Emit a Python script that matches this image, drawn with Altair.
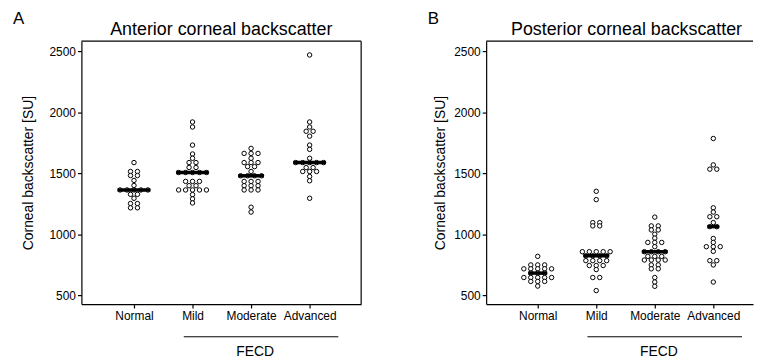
import altair as alt
import pandas as pd
import numpy as np

# ---------------- data ----------------
CATEGORIES = ["Normal", "Mild", "Moderate", "Advanced"]

ANT_NORMAL = [1588, 1515, 1515, 1482, 1482, 1442, 1401,
              1364, 1364, 1364, 1364, 1364,
              1328, 1328, 1296, 1253, 1253, 1218, 1218]
ANT_MILD = [1920, 1879, 1731, 1658, 1623, 1588, 1588, 1548, 1548,
            1507, 1507, 1507, 1507, 1507,
            1434, 1434, 1434, 1399, 1399,
            1364, 1364, 1364, 1364, 1364, 1326, 1291, 1258]
ANT_MODERATE = [1704, 1663, 1663, 1663, 1623, 1588, 1588, 1588, 1555, 1555, 1515,
                1480, 1480, 1480, 1480,
                1434, 1434, 1434, 1399, 1399, 1399, 1364, 1364, 1364, 1223, 1183]
ANT_ADVANCED = [2468, 1920, 1879, 1844, 1844, 1804, 1731, 1696, 1623,
                1588, 1588, 1588, 1588, 1588,
                1547, 1547, 1515, 1515, 1515, 1474, 1439, 1296]

POST_NORMAL = [821, 751, 751, 751, 719, 719, 719, 719, 719,
               684, 684, 684, 648, 648, 648, 648, 648, 616, 616, 616, 578]
POST_MILD = [1353, 1285, 1097, 1097, 1070, 1070,
             859, 859, 859, 859, 859,
             826, 826, 826, 826,
             786, 786, 786, 786, 746, 746, 746, 713, 648, 648, 541]
POST_MODERATE = [1142, 1070, 1070, 1037, 1037, 1002, 970, 935, 935, 935, 900,
                 859, 859, 859, 859,
                 821, 821, 821, 791, 791, 791, 791, 751, 751, 719, 719, 648, 611, 576]
POST_ADVANCED = [1785, 1569, 1534, 1534, 1218, 1183, 1145, 1145, 1097,
                 1064, 1064,
                 967, 935, 900, 900, 900, 862, 786, 786, 751, 611]

PANEL_TITLES = ["Anterior corneal backscatter", "Posterior corneal backscatter"]
PANEL_LETTERS = ["A", "B"]
Y_TITLE = "Corneal backscatter [SU]"
Y_TICKS = [500, 1000, 1500, 2000, 2500]
GROUP_LABEL = "FECD"

# ---------------- layout / style ----------------
FONT = "Liberation Sans"
H = 265
STEP = 59.0          # px between categories
DOT_GAP = 7.0        # px between dots in one row
Y_DOMAIN = [431, 2581]


def build_points(groups):
    rows, meds = [], []
    for gi, vals in enumerate(groups):
        counts = {}
        for v in vals:
            counts[v] = counts.get(v, 0) + 1
        seen = {}
        for v in vals:
            k = seen.get(v, 0)
            seen[v] = k + 1
            n = counts[v]
            off = (k - (n - 1) / 2) * DOT_GAP / STEP
            rows.append({"group": CATEGORIES[gi], "x": gi + off, "value": v})
        med = float(np.median(vals))
        n = counts.get(med, 1)
        hw = ((n - 1) / 2 * DOT_GAP + 2.5) / STEP
        meds.append({"x": gi - hw, "x2": gi + hw, "value": med})
    return pd.DataFrame(rows), pd.DataFrame(meds)


def panel(groups, title, letter, width, xmin, xmax, title_pad, letter_x,
          right_border, title_dx):
    pts, med = build_points(groups)
    xscale = alt.Scale(domain=[xmin, xmax], nice=False, zero=False)
    yscale = alt.Scale(domain=Y_DOMAIN, nice=False, zero=False)
    label_expr = "[" + ",".join("'%s'" % c for c in CATEGORIES) + "][datum.value]"
    xaxis = alt.Axis(values=[0, 1, 2, 3], labelExpr=label_expr, title=None,
                     grid=False, tickSize=4, tickColor="black",
                     domainColor="black", domainWidth=1.2, tickWidth=1.2,
                     labelFont=FONT, labelFontSize=12, labelColor="black",
                     labelPadding=3)
    yaxis = alt.Axis(values=Y_TICKS, format="d", title=Y_TITLE, grid=False,
                     tickSize=4, tickColor="black", domainColor="black",
                     domainWidth=1.2, tickWidth=1.2,
                     labelFont=FONT, labelFontSize=12, labelColor="black",
                     labelPadding=2, titleFont=FONT, titleFontSize=14,
                     titleFontWeight="normal", titleColor="black",
                     titlePadding=title_pad)

    points = alt.Chart(pts).mark_point(
        shape="circle", filled=True, fill="white", stroke="black",
        strokeWidth=1, size=20, opacity=1
    ).encode(
        x=alt.X("x:Q", scale=xscale, axis=xaxis),
        y=alt.Y("value:Q", scale=yscale, axis=yaxis),
    )
    median = alt.Chart(med).mark_rule(color="black", strokeWidth=3.5).encode(
        x="x:Q", x2="x2:Q", y="value:Q"
    )
    one = pd.DataFrame({"k": [0]})
    top = alt.Chart(one).mark_rule(color="black", strokeWidth=1.2).encode(
        x=alt.value(0), x2=alt.value(width), y=alt.value(0)
    )
    layers = [points, median, top]
    if right_border:
        layers.append(alt.Chart(one).mark_rule(color="black", strokeWidth=1.2).encode(
            x=alt.value(width), y=alt.value(0), y2=alt.value(H)
        ))
    fecd_line = alt.Chart(pd.DataFrame({"x": [0.85], "x2": [3.49]})).mark_rule(
        color="black", strokeWidth=1
    ).encode(x="x:Q", x2="x2:Q", y=alt.value(H + 33))
    fecd_text = alt.Chart(pd.DataFrame({"x": [2.07], "t": [GROUP_LABEL]})).mark_text(
        font=FONT, fontSize=14, color="black", baseline="middle"
    ).encode(x="x:Q", y=alt.value(H + 48), text="t:N")
    letter_text = alt.Chart(pd.DataFrame({"t": [letter]})).mark_text(
        font=FONT, fontSize=17, color="black", align="left", baseline="middle"
    ).encode(x=alt.value(letter_x), y=alt.value(-22), text="t:N")
    title_text = alt.Chart(pd.DataFrame({"t": [title]})).mark_text(
        font=FONT, fontSize=18, color="black", align="center",
        baseline="alphabetic"
    ).encode(x=alt.value(width / 2 + title_dx), y=alt.value(-6), text="t:N")
    layers += [fecd_line, fecd_text, letter_text, title_text]
    return alt.layer(*layers).properties(width=width, height=H)


left = panel([ANT_NORMAL, ANT_MILD, ANT_MODERATE, ANT_ADVANCED],
             PANEL_TITLES[0], PANEL_LETTERS[0], 282, -0.898, 3.88,
             14, -69, True, 0)
right = panel([POST_NORMAL, POST_MILD, POST_MODERATE, POST_ADVANCED],
              PANEL_TITLES[1], PANEL_LETTERS[1], 269, -0.881, -0.881 + 269 / STEP,
              6, -59, False, 7)

chart = alt.hconcat(left, right, spacing=66).properties(
    padding={"left": 5, "top": 1, "right": 0, "bottom": 2}
).configure_view(stroke=None)

chart.save("out.html", embed_options={"renderer": "svg", "actions": False})
